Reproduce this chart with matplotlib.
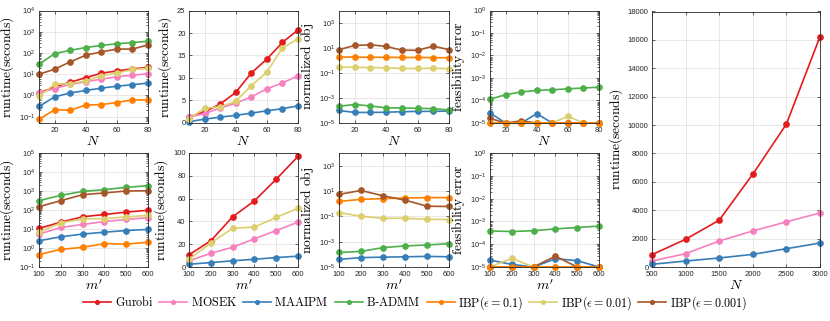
import numpy as np
import matplotlib
matplotlib.use('Agg')
import matplotlib.pyplot as plt

plt.rcParams['font.family'] = ['Liberation Sans', 'DejaVu Sans']
plt.rcParams['mathtext.fontset'] = 'cm'

# x values
N_small = [10, 20, 30, 40, 50, 60, 70, 80]
m_vals = [100, 200, 300, 400, 500, 600]
N_large = [500, 1000, 1500, 2000, 2500, 3000]

# runtime vs N
gurobi_N = [1.3, 2.5, 4.2, 6.8, 11.1, 14.2, 17.9, 20.7]
mosek_N = [1.3, 2.1, 3.3, 4.4, 5.8, 7.6, 8.9, 10.5]
maaipm_N = [0.3, 0.85, 1.3, 1.7, 2.2, 2.7, 3.2, 3.8]
badmm_N = [29, 93, 133, 180, 225, 270, 310, 355]
ibp1_N = [0.075, 0.21, 0.2, 0.35, 0.37, 0.46, 0.62, 0.6]
ibp2_N = [0.9, 3.3, 3.6, 4.8, 8.3, 11.3, 16.7, 18.7]
ibp3_N = [10, 17, 38, 78, 112, 152, 152, 240]

# runtime vs m'
gurobi_m = [10.7, 23, 44, 58, 77, 97]
mosek_m = [5.4, 12, 17.3, 24.7, 32, 39.3]
maaipm_m = [2.4, 3.9, 5.4, 6.8, 8.3, 9.5]
badmm_m = [310, 590, 950, 1180, 1550, 1900]
ibp1_m = [0.45, 0.85, 1.08, 1.7, 1.6, 2.0]
ibp2_m = [6.8, 21, 34, 35, 43.5, 51.5]
ibp3_m = [150, 310, 640, 790, 1000, 1030]

# normalized obj
maaipm_obj_N = [1e-4, 7e-5, 7e-5, 7.3e-5, 8e-5, 8.5e-5, 8.5e-5, 9e-5]
badmm_obj_N = [2.2e-4, 3e-4, 2.3e-4, 1.65e-4, 1.6e-4, 1.5e-4, 1.4e-4, 1.1e-4]
ibp1_obj_N = [1.9, 1.85, 1.8, 1.8, 1.75, 1.75, 1.7, 1.65]
ibp2_obj_N = [0.3, 0.29, 0.27, 0.26, 0.23, 0.23, 0.24, 0.22]
ibp3_obj_N = [7.4, 16, 18, 13.5, 6.6, 6.6, 14, 7.4]

maaipm_obj_m = [4e-5, 5.5e-5, 6e-5, 6.4e-5, 6.9e-5, 6.4e-5]
badmm_obj_m = [1.4e-4, 1.7e-4, 3.4e-4, 4.6e-4, 5.5e-4, 6.9e-4]
ibp1_obj_m = [1.5, 2.2, 2.5, 2.8, 3.0, 3.0]
ibp2_obj_m = [0.2, 0.1, 0.07, 0.07, 0.06, 0.055]
ibp3_obj_m = [5.4, 11, 4.2, 1.9, 0.63, 0.6]

# feasibility error
maaipm_feas_N = [2.8e-5, 1e-5, 1e-5, 2.6e-5, 1e-5, 1e-5, 1e-5, 1e-5]
badmm_feas_N = [1.15e-4, 1.8e-4, 2.4e-4, 2.8e-4, 3.0e-4, 3.3e-4, 3.6e-4, 3.9e-4]
ibp1_feas_N = [1e-5, 1e-5, 1e-5, 1e-5, 1e-5, 1e-5, 1e-5, 1e-5]
ibp2_feas_N = [1e-5, 1e-5, 1e-5, 1e-5, 1e-5, 2e-5, 1e-5, 1e-5]
ibp3_feas_N = [1.6e-5, 1e-5, 1.25e-5, 1e-5, 1e-5, 1e-5, 1e-5, 1e-5]

maaipm_feas_m = [2e-5, 1.3e-5, 1e-5, 2.3e-5, 1.9e-5, 1e-5]
badmm_feas_m = [3.8e-4, 3.6e-4, 3.9e-4, 4.7e-4, 5.4e-4, 6.2e-4]
ibp1_feas_m = [1e-5, 1e-5, 1e-5, 1e-5, 1e-5, 1e-5]
ibp2_feas_m = [1e-5, 2.4e-5, 1e-5, 1e-5, 1e-5, 1e-5]
ibp3_feas_m = [1e-5, 1e-5, 1e-5, 3e-5, 1e-5, 1e-5]

# large N runtime
gurobi_L = [870, 1950, 3300, 6540, 10070, 16230]
mosek_L = [420, 940, 1830, 2540, 3180, 3810]
maaipm_L = [190, 420, 635, 890, 1290, 1690]

names = ['Gurobi', 'MOSEK', 'MAAIPM', 'B-ADMM', 'IBP01', 'IBP001', 'IBP0001']
colors = {'Gurobi': '#e41a1c', 'MOSEK': '#f781bf', 'MAAIPM': '#377eb8',
          'B-ADMM': '#4daf4a', 'IBP01': '#ff7f00', 'IBP001': '#dccf6e',
          'IBP0001': '#a65628'}
labels = {'Gurobi': r'$\mathrm{Gurobi}$', 'MOSEK': r'$\mathrm{MOSEK}$',
          'MAAIPM': r'$\mathrm{MAAIPM}$', 'B-ADMM': r'$\mathrm{B}$-$\mathrm{ADMM}$',
          'IBP01': r'$\mathrm{IBP}(\epsilon=0.1)$',
          'IBP001': r'$\mathrm{IBP}(\epsilon=0.01)$',
          'IBP0001': r'$\mathrm{IBP}(\epsilon=0.001)$'}

fig = plt.figure(figsize=(8.3, 3.21), dpi=100)

W, H = 830.0, 321.0
cols = [(39, 109), (189, 109), (339, 110), (490, 109)]
top_row = (10.5, 123)
bot_row = (153, 267)


def make_ax(x0, w, y0, y1):
    return fig.add_axes([x0 / W, 1 - y1 / H, w / W, (y1 - y0) / H])


def style(ax, xlabel, ylabel):
    ax.tick_params(which='both', direction='in', top=True, right=True,
                   labelsize=5.5, width=0.5, colors='#262626')
    ax.tick_params(axis='x', pad=3)
    ax.tick_params(axis='y', pad=2.5)
    ax.tick_params(which='major', length=2.5)
    ax.tick_params(which='minor', length=1.3)
    for s in ax.spines.values():
        s.set_linewidth(0.6)
        s.set_color('#262626')
    ax.grid(True, which='major', color='#e3e3e3', lw=0.6)
    ax.set_axisbelow(True)
    ax.set_xlabel(xlabel, fontsize=10, labelpad=0)
    ax.set_ylabel(ylabel, fontsize=9.7, labelpad=2)


def draw(ax, x, y, key):
    ax.plot(x, y, '-o', color=colors[key], lw=1.2, ms=3.8, label=labels[key],
            clip_on=False)


ylab_rt = r'$\mathrm{runtime(seconds)}$'
ylab_obj = r'$\mathrm{normalized\ obj}$'
ylab_feas = r'$\mathrm{feasibility\ error}$'

# ---- top row ----
ax = make_ax(cols[0][0], cols[0][1], *top_row)
runs = [gurobi_N, mosek_N, maaipm_N, badmm_N, ibp1_N, ibp2_N, ibp3_N]
for k, y in zip(names, runs):
    draw(ax, N_small, y, k)
ax.set_yscale('log')
ax.set_ylim(0.05, 1e4)
ax.set_yticks([1e-1, 1e0, 1e1, 1e2, 1e3, 1e4])
ax.set_xlim(10, 80)
ax.set_xticks([20, 40, 60, 80])
style(ax, r'$N$', ylab_rt)
handles, _ = ax.get_legend_handles_labels()

ax = make_ax(cols[1][0], cols[1][1], *top_row)
for k, y in zip(['Gurobi', 'MOSEK', 'MAAIPM', 'IBP001'],
                [gurobi_N, mosek_N, maaipm_N, ibp2_N]):
    draw(ax, N_small, y, k)
ax.set_ylim(0, 25)
ax.set_yticks([0, 5, 10, 15, 20, 25])
ax.set_xlim(10, 80)
ax.set_xticks([20, 40, 60, 80])
style(ax, r'$N$', ylab_rt)

ax = make_ax(cols[2][0], cols[2][1], *top_row)
for k, y in zip(['MAAIPM', 'B-ADMM', 'IBP01', 'IBP001', 'IBP0001'],
                [maaipm_obj_N, badmm_obj_N, ibp1_obj_N, ibp2_obj_N, ibp3_obj_N]):
    draw(ax, N_small, y, k)
ax.set_yscale('log')
ax.set_ylim(1e-5, 1e4)
ax.set_yticks([1e-5, 1e-3, 1e-1, 1e1, 1e3])
ax.set_xlim(10, 80)
ax.set_xticks([20, 40, 60, 80])
style(ax, r'$N$', ylab_obj)

ax = make_ax(cols[3][0], cols[3][1], *top_row)
for k, y in zip(['MAAIPM', 'B-ADMM', 'IBP0001', 'IBP001', 'IBP01'],
                [maaipm_feas_N, badmm_feas_N, ibp3_feas_N, ibp2_feas_N, ibp1_feas_N]):
    draw(ax, N_small, y, k)
ax.set_yscale('log')
ax.set_ylim(1e-5, 1)
ax.set_yticks([1e-5, 1e-4, 1e-3, 1e-2, 1e-1, 1e0])
ax.set_xlim(10, 80)
ax.set_xticks([20, 40, 60, 80])
style(ax, r'$N$', ylab_feas)

# ---- bottom row ----
ax = make_ax(cols[0][0], cols[0][1], *bot_row)
runs = [gurobi_m, mosek_m, maaipm_m, badmm_m, ibp1_m, ibp2_m, ibp3_m]
for k, y in zip(names, runs):
    draw(ax, m_vals, y, k)
ax.set_yscale('log')
ax.set_ylim(1e-1, 1e5)
ax.set_yticks([1e-1, 1e0, 1e1, 1e2, 1e3, 1e4, 1e5])
ax.set_xlim(100, 600)
ax.set_xticks(m_vals)
style(ax, r"$m'$", ylab_rt)

ax = make_ax(cols[1][0], cols[1][1], *bot_row)
for k, y in zip(['Gurobi', 'MOSEK', 'MAAIPM', 'IBP001'],
                [gurobi_m, mosek_m, maaipm_m, ibp2_m]):
    draw(ax, m_vals, y, k)
ax.set_ylim(0, 100)
ax.set_yticks([0, 20, 40, 60, 80, 100])
ax.set_xlim(100, 600)
ax.set_xticks(m_vals)
style(ax, r"$m'$", ylab_rt)

ax = make_ax(cols[2][0], cols[2][1], *bot_row)
for k, y in zip(['MAAIPM', 'B-ADMM', 'IBP01', 'IBP001', 'IBP0001'],
                [maaipm_obj_m, badmm_obj_m, ibp1_obj_m, ibp2_obj_m, ibp3_obj_m]):
    draw(ax, m_vals, y, k)
ax.set_yscale('log')
ax.set_ylim(1e-5, 1e4)
ax.set_yticks([1e-5, 1e-3, 1e-1, 1e1, 1e3])
ax.set_xlim(100, 600)
ax.set_xticks(m_vals)
style(ax, r"$m'$", ylab_obj)

ax = make_ax(cols[3][0], cols[3][1], *bot_row)
for k, y in zip(['MAAIPM', 'B-ADMM', 'IBP001', 'IBP0001', 'IBP01'],
                [maaipm_feas_m, badmm_feas_m, ibp2_feas_m, ibp3_feas_m, ibp1_feas_m]):
    draw(ax, m_vals, y, k)
ax.set_yscale('log')
ax.set_ylim(1e-5, 1)
ax.set_yticks([1e-5, 1e-4, 1e-3, 1e-2, 1e-1, 1e0])
ax.set_xlim(100, 600)
ax.set_xticks(m_vals)
style(ax, r"$m'$", ylab_feas)

# ---- large N panel ----
ax = make_ax(652, 168, 11.5, 267)
for k, y in zip(['Gurobi', 'MOSEK', 'MAAIPM'], [gurobi_L, mosek_L, maaipm_L]):
    draw(ax, N_large, y, k)
ax.set_ylim(0, 18000)
ax.set_yticks(np.arange(0, 18001, 2000))
ax.set_xlim(500, 3000)
ax.set_xticks(N_large)
style(ax, r'$N$', ylab_rt)

fig.legend(handles=handles, loc='center', bbox_to_anchor=(0.5, 1 - 303 / H),
           ncol=7, frameon=False, fontsize=8.7, handlelength=2.3,
           handletextpad=0.3, columnspacing=0.5, borderaxespad=0,
           markerscale=0.7)

fig.savefig('out.png', dpi=100)
